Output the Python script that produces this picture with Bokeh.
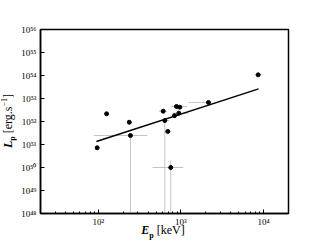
from bokeh.plotting import figure
from bokeh.models import CustomJSTickFormatter, FixedTicker, Div
from bokeh.layouts import row, column
from bokeh.embed import file_html
from bokeh.resources import INLINE

# data (keV, erg/s)
E    = [97, 126, 237, 245, 610, 638, 693, 753, 883, 968, 836, 942, 2153, 8590]
L    = [7.2e50, 2.16e52, 9.3e51, 2.46e51, 2.8e52, 1.1e52, 3.7e51, 1.0e50,
        4.5e52, 4.2e52, 1.8e52, 2.3e52, 6.7e52, 1.07e54]
E_lo = [97, 126, 237, 88, 540, 570, 650, 453, 748, 968, 836, 784, 1245, 7820]
E_hi = [97, 126, 237, 391, 681, 720, 767, 1064, 1189, 968, 836, 1233, 2275, 9620]
L_lo = [7.2e50, 2.16e52, 9.3e51, 1e46, 2.8e52, 1e46, 3.7e51, 1e46,
        4.5e52, 4.2e52, 1.8e52, 2.3e52, 6.7e52, 1.07e54]
L_hi = [7.2e50, 2.16e52, 9.3e51, 2.7e51, 2.8e52, 1.15e52, 3.7e51, 2.0e50,
        4.5e52, 4.2e52, 1.8e52, 2.3e52, 6.7e52, 1.07e54]

fit_E = [95, 8700]
fit_L = [1.35e51, 2.63e53]

x_ticks = [1e2, 1e3, 1e4]
x_minor = [m * 10**k for k in (1, 2, 3) for m in range(2, 10)] + [2e4]
y_ticks = [10.0**k for k in range(48, 57)]

FONT = "Liberation Serif"

p = figure(width=304, height=232, x_axis_type="log", y_axis_type="log",
           x_range=(20, 2e4), y_range=(1e48, 1e56),
           output_backend="svg", toolbar_location=None,
           min_border_left=24, min_border_right=32,
           min_border_top=29, min_border_bottom=19, margin=0)
p.grid.visible = False
p.outline_line_color = "black"
p.outline_line_width = 1.5
p.background_fill_color = "white"
p.border_fill_color = "white"

fmt = CustomJSTickFormatter(code="""
const sup = {'0':'\u2070','1':'\u00b9','2':'\u00b2','3':'\u00b3','4':'\u2074',
             '5':'\u2075','6':'\u2076','7':'\u2077','8':'\u2078','9':'\u2079','-':'\u207b'};
const e = Math.round(Math.log10(tick));
return '10' + String(e).split('').map(c => sup[c]).join('');
""")

for ax in (p.xaxis, p.yaxis):
    ax.formatter = fmt
    ax.axis_line_width = 1.5
    ax.axis_line_color = "black"
    ax.major_tick_in = 4
    ax.major_tick_out = 0
    ax.minor_tick_in = 2
    ax.minor_tick_out = 0
    ax.major_label_text_font = FONT
    ax.major_label_text_font_size = "9px"
    ax.major_label_text_color = "black"
p.xaxis.major_label_standoff = 3
p.yaxis.major_label_standoff = 4

p.xaxis.ticker = FixedTicker(ticks=x_ticks, minor_ticks=x_minor)
p.yaxis.ticker = FixedTicker(ticks=y_ticks, minor_ticks=[])

# error bars
p.segment(x0=E_lo, y0=L, x1=E_hi, y1=L, line_color="#c4c4c4", line_width=1)
p.segment(x0=E, y0=L_lo, x1=E, y1=L_hi, line_color="#c4c4c4", line_width=1)
# fit line
p.line(fit_E, fit_L, line_color="black", line_width=1.5)
# points
p.scatter(E, L, size=4, color="black")

base = "position:absolute; white-space:nowrap; font-family:'Liberation Serif'; font-size:12px; color:black; line-height:1;"
ylab = Div(width=16, height=232, margin=0, styles={"overflow": "visible"},
           text=f'<span style="{base} left:9px; top:121px; transform:translate(-50%,-50%) rotate(-90deg);">'
                '<b><i>L</i><sub style="font-size:8px">p</sub></b> [erg.s<sup style="font-size:8px">\u2212</sup><sup style="font-size:8px">1</sup>]</span>')
xlab = Div(width=304, height=8, margin=0, styles={"overflow": "visible"},
           text=f'<span style="{base} left:147px; top:0px; transform:translate(-50%,-50%);">'
                '<b><i>E</i><sub style="font-size:8px">p</sub></b> [keV]</span>')

layout = row(ylab, column(p, xlab, spacing=0), spacing=0)

open("out.html", "w").write(file_html(layout, INLINE))
